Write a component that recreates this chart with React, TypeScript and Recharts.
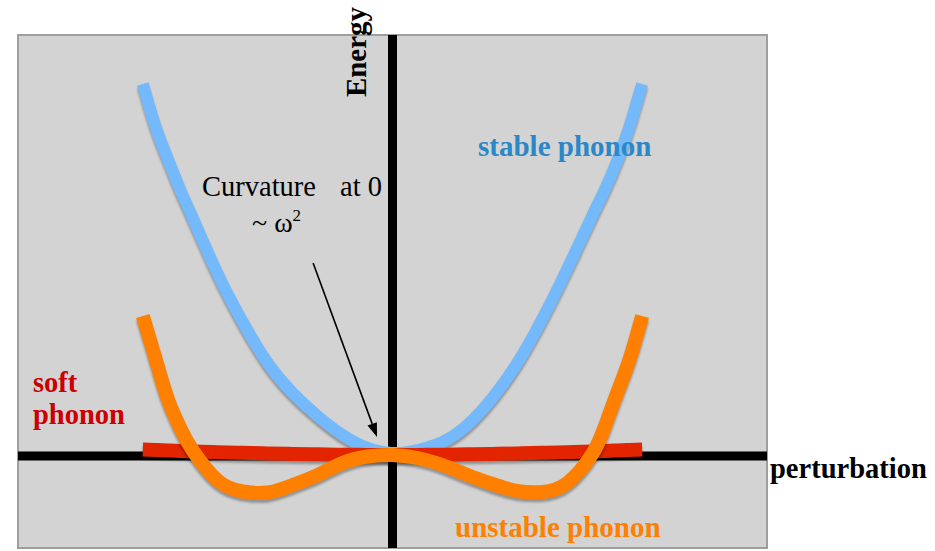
import { Line, LineChart, ReferenceArea, ReferenceLine, XAxis, YAxis } from 'recharts';

// perturbation grid (x) and energies (y)
const PERTURBATION = [
  -1, -0.95, -0.9, -0.85, -0.8, -0.7, -0.6, -0.5, -0.4, -0.3, -0.2, -0.1, 0,
  0.1, 0.2, 0.3, 0.4, 0.5, 0.6, 0.7, 0.8, 0.85, 0.9, 0.95, 1,
];
const STABLE = [
  3.72, 3.3, 2.97, 2.66, 2.38, 1.82, 1.34, 0.93, 0.63, 0.4, 0.21, 0.08, 0.03,
  0.06, 0.14, 0.31, 0.58, 0.93, 1.37, 1.87, 2.4, 2.66, 2.95, 3.3, 3.72,
];
const UNSTABLE = [
  1.4, 0.98, 0.57, 0.28, 0.055, -0.245, -0.355, -0.365, -0.29, -0.19, -0.07, -0.005, 0.01,
  -0.02, -0.09, -0.19, -0.28, -0.35, -0.36, -0.27, 0.02, 0.29, 0.63, 0.97, 1.4,
];
const SOFT = [
  0.065, 0.06, 0.055, 0.05, 0.045, 0.038, 0.032, 0.026, 0.021, 0.017, 0.013, 0.011, 0.01,
  0.011, 0.013, 0.017, 0.021, 0.026, 0.032, 0.038, 0.045, 0.05, 0.055, 0.06, 0.065,
];

const X_DOMAIN = [-1.5, 1.5];
const Y_DOMAIN = [-0.92, 4.21];
// annotation arrow: from the label down to the curve minimum
const ARROW = [
  { x: -0.318, y: 1.93 },
  { x: -0.062, y: 0.19 },
];

const rows = PERTURBATION.map((x, i) => ({
  x,
  stable: STABLE[i],
  unstable: UNSTABLE[i],
  soft: SOFT[i],
}));

const SERIF = '"Liberation Serif", "Times New Roman", serif';

function Arrow(props: any) {
  const { x1, y1, x2, y2 } = props;
  const ang = Math.atan2(y2 - y1, x2 - x1);
  const len = 14;
  const w = 5;
  const bx = x2 - len * Math.cos(ang);
  const by = y2 - len * Math.sin(ang);
  const px = -Math.sin(ang) * w;
  const py = Math.cos(ang) * w;
  return (
    <g>
      <line x1={x1} y1={y1} x2={bx} y2={by} stroke="#000" strokeWidth={1.6} />
      <polygon points={`${x2},${y2} ${bx + px},${by + py} ${bx - px},${by - py}`} fill="#000" />
    </g>
  );
}

export default function App() {
  return (
    <div style={styles.page}>
      <style>{`.phonon .recharts-line-curve { filter: drop-shadow(0px 3px 1px rgba(0,0,0,0.3)); }`}</style>
      <LineChart
        className="phonon"
        width={935}
        height={551}
        data={rows}
        margin={{ top: 35, right: 168, bottom: 3, left: 18 }}
      >
        <XAxis type="number" dataKey="x" domain={X_DOMAIN} hide />
        <YAxis type="number" domain={Y_DOMAIN} hide />
        <ReferenceArea
          x1={X_DOMAIN[0]}
          x2={X_DOMAIN[1]}
          y1={Y_DOMAIN[0]}
          y2={Y_DOMAIN[1]}
          fill="#d3d3d3"
          fillOpacity={1}
          stroke="#9e9e9e"
          strokeWidth={2}
        />
        <ReferenceLine x={0} stroke="#000" strokeWidth={9} />
        <ReferenceLine y={0} stroke="#000" strokeWidth={9} />
        <ReferenceLine segment={ARROW} shape={Arrow} />
        <Line
          type="natural"
          dataKey="stable"
          stroke="#74b9fc"
          strokeWidth={12}
          strokeLinecap="butt"
          dot={false}
          isAnimationActive={false}
        />
        <Line
          type="natural"
          dataKey="soft"
          stroke="#e22400"
          strokeWidth={14}
          strokeLinecap="butt"
          dot={false}
          isAnimationActive={false}
        />
        <Line
          type="natural"
          dataKey="unstable"
          stroke="#ff8000"
          strokeWidth={14}
          strokeLinecap="butt"
          dot={false}
          isAnimationActive={false}
        />
      </LineChart>
      <svg width={935} height={551} style={styles.overlay}>
        <text
          x={366}
          y={52}
          transform="rotate(-90 366 52)"
          textAnchor="middle"
          fontFamily={SERIF}
          fontWeight="bold"
          fontSize={29}
          fill="#000"
        >
          Energy
        </text>
        <text x={770} y={478} fontFamily={SERIF} fontWeight="bold" fontSize={28.5} fill="#000">
          perturbation
        </text>
        <text x={478} y={156} fontFamily={SERIF} fontWeight="bold" fontSize={29} fill="#2a88c8">
          stable phonon
        </text>
        <text x={455} y={537} fontFamily={SERIF} fontWeight="bold" fontSize={29} fill="#ff8000">
          unstable phonon
        </text>
        <text x={33} y={392} fontFamily={SERIF} fontWeight="bold" fontSize={28.5} fill="#cc0000">
          soft
        </text>
        <text x={33} y={424} fontFamily={SERIF} fontWeight="bold" fontSize={28.5} fill="#cc0000">
          phonon
        </text>
        <text x={202} y={196} fontFamily={SERIF} fontSize={28.5} fill="#000">
          Curvature
        </text>
        <text x={340} y={196} fontFamily={SERIF} fontSize={28.5} fill="#000">
          at 0
        </text>
        <text x={252} y={232} fontFamily={SERIF} fontSize={28} fill="#000">
          ~ ω
          <tspan dy={-11} fontSize={17}>
            2
          </tspan>
        </text>
      </svg>
    </div>
  );
}

const styles: Record<string, React.CSSProperties> = {
  page: {
    position: 'absolute',
    left: 0,
    top: 0,
    width: 935,
    height: 551,
    background: '#ffffff',
  },
  overlay: {
    position: 'absolute',
    left: 0,
    top: 0,
    pointerEvents: 'none',
  },
};
